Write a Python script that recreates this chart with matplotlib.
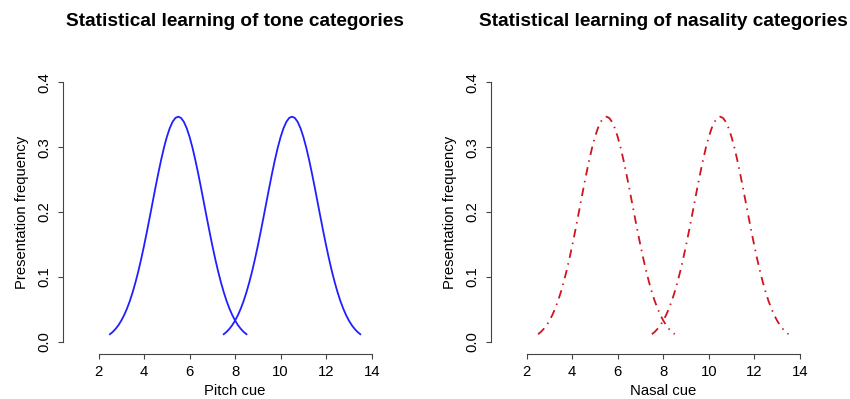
import matplotlib
matplotlib.use("Agg")
from matplotlib import pyplot as plt

plt.rcParams['font.family'] = ['Liberation Sans', 'DejaVu Sans']

# cue values (x) for the two categories
cue_low = [2.5, 2.625, 2.75, 2.875, 3.0, 3.125, 3.25, 3.375, 3.5, 3.625, 3.75, 3.875,
           4.0, 4.125, 4.25, 4.375, 4.5, 4.625, 4.75, 4.875, 5.0, 5.125, 5.25, 5.375,
           5.5, 5.625, 5.75, 5.875, 6.0, 6.125, 6.25, 6.375, 6.5, 6.625, 6.75, 6.875,
           7.0, 7.125, 7.25, 7.375, 7.5, 7.625, 7.75, 7.875, 8.0, 8.125, 8.25, 8.375, 8.5]
cue_high = [7.5, 7.625, 7.75, 7.875, 8.0, 8.125, 8.25, 8.375, 8.5, 8.625, 8.75, 8.875,
            9.0, 9.125, 9.25, 9.375, 9.5, 9.625, 9.75, 9.875, 10.0, 10.125, 10.25, 10.375,
            10.5, 10.625, 10.75, 10.875, 11.0, 11.125, 11.25, 11.375, 11.5, 11.625, 11.75,
            11.875, 12.0, 12.125, 12.25, 12.375, 12.5, 12.625, 12.75, 12.875, 13.0, 13.125,
            13.25, 13.375, 13.5]

# presentation frequency at each cue value
freq_low = [0.0116, 0.0152, 0.0199, 0.0256, 0.0327, 0.0411, 0.0512, 0.0629, 0.0765,
            0.0919, 0.1090, 0.1279, 0.1482, 0.1698, 0.1922, 0.2150, 0.2378, 0.2598,
            0.2805, 0.2994, 0.3157, 0.3290, 0.3389, 0.3450, 0.3470, 0.3450, 0.3389,
            0.3290, 0.3157, 0.2994, 0.2805, 0.2598, 0.2378, 0.2150, 0.1922, 0.1698,
            0.1482, 0.1279, 0.1090, 0.0919, 0.0765, 0.0629, 0.0512, 0.0411, 0.0327,
            0.0256, 0.0199, 0.0152, 0.0116]
freq_high = [0.0116, 0.0152, 0.0199, 0.0256, 0.0327, 0.0411, 0.0512, 0.0629, 0.0765,
             0.0919, 0.1090, 0.1279, 0.1482, 0.1698, 0.1922, 0.2150, 0.2378, 0.2598,
             0.2805, 0.2994, 0.3157, 0.3290, 0.3389, 0.3450, 0.3470, 0.3450, 0.3389,
             0.3290, 0.3157, 0.2994, 0.2805, 0.2598, 0.2378, 0.2150, 0.1922, 0.1698,
             0.1482, 0.1279, 0.1090, 0.0919, 0.0765, 0.0629, 0.0512, 0.0411, 0.0327,
             0.0256, 0.0199, 0.0152, 0.0116]

x_ticks = [2, 4, 6, 8, 10, 12, 14]
y_ticks = [0.0, 0.1, 0.2, 0.3, 0.4]
y_tick_labels = ["0.0", "0.1", "0.2", "0.3", "0.4"]

panels = [
    ("Statistical learning of tone categories", "Pitch cue", "#2020ff", "-"),
    ("Statistical learning of nasality categories", "Nasal cue", "#d0141e",
     (0, (4.7, 3.05, 0.83, 3.05))),
]

fig = plt.figure(figsize=(8.5, 3.99), dpi=100)
lefts = [0.1031, 0.6068]
axis_col = "#444444"

for left, (title, xlab, col, ls) in zip(lefts, panels):
    ax = fig.add_axes([left, 0.1175, 0.347, 0.7023])
    ax.plot(cue_low, freq_low, color=col, lw=1.3, linestyle=ls)
    ax.plot(cue_high, freq_high, color=col, lw=1.3, linestyle=ls)
    ax.set_xlim(1.52, 14.48)
    ax.set_ylim(-0.016, 0.416)

    for s in ["top", "right"]:
        ax.spines[s].set_visible(False)
    ax.spines["left"].set_position(("outward", 18))
    ax.spines["bottom"].set_position(("outward", 1))
    ax.spines["left"].set_bounds(0, 0.4)
    ax.spines["bottom"].set_bounds(2, 14)
    for s in ["left", "bottom"]:
        ax.spines[s].set_color(axis_col)
        ax.spines[s].set_linewidth(0.8)

    ax.set_xticks(x_ticks)
    ax.set_yticks(y_ticks)
    ax.set_yticklabels(y_tick_labels, rotation=90, va="center")
    ax.tick_params(axis="both", colors=axis_col, labelcolor="black",
                   length=3.5, width=0.8, labelsize=10.7, pad=4.5)

    ax.set_xlabel(xlab, fontsize=10.7)
    ax.xaxis.set_label_coords(0.5, -0.112)
    ax.set_ylabel("Presentation frequency", fontsize=10.7)
    ax.yaxis.set_label_coords(-0.2, 0.5)
    ax.set_title(title, fontsize=13.7, fontweight="bold", y=1.164, pad=0)

fig.savefig("out.png", dpi=100)
